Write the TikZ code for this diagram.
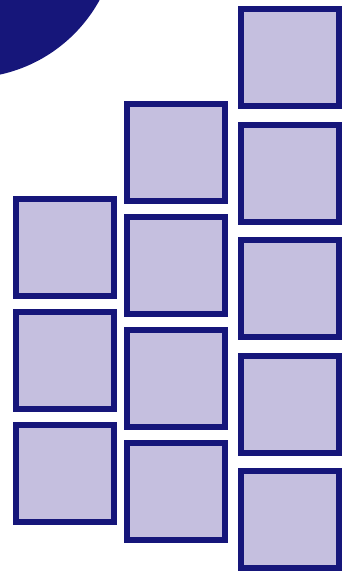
\documentclass[tikz,border=0pt]{standalone}
\definecolor{navy}{RGB}{22,22,122}
\definecolor{lav}{RGB}{197,191,223}
\tikzset{
  tile/.style={draw=navy, fill=lav, line width=6pt, minimum width=98pt, minimum height=97pt, inner sep=0pt, outer sep=0pt}
}
\begin{document}
\begin{tikzpicture}[x=1pt,y=-1pt]
\useasboundingbox (0,0) rectangle (351,571);
\begin{scope}
\clip (0,0) rectangle (351,571);
\fill[navy] (-32,-72) circle (150);
\end{scope}
% column 1
\node[tile] (a1) at (65,247.5) {};
\node[tile] (a2) at (65,360.5) {};
\node[tile] (a3) at (65,473.5) {};
% column 2
\node[tile] (b1) at (176,152) {};
\node[tile] (b2) at (176,265) {};
\node[tile] (b3) at (176,378) {};
\node[tile] (b4) at (176,491.5) {};
% column 3
\node[tile] (c1) at (289.5,57.5) {};
\node[tile] (c2) at (289.5,173) {};
\node[tile] (c3) at (289.5,288.5) {};
\node[tile] (c4) at (289.5,404.5) {};
\node[tile] (c5) at (289.5,519.5) {};
\end{tikzpicture}
\end{document}
